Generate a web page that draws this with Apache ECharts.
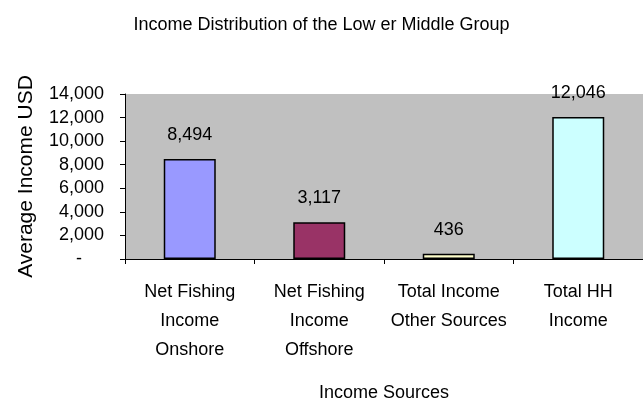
<!DOCTYPE html>
<html><head><meta charset="utf-8">
<script src="https://cdn.jsdelivr.net/npm/echarts@6/dist/echarts.min.js"></script>
<style>html,body{margin:0;padding:0;background:#fff}#c{width:643px;height:403px}</style>
</head><body><div id="c"></div>
<script>
const categories = ["Net Fishing\nIncome\nOnshore", "Net Fishing\nIncome\nOffshore", "Total Income\nOther Sources", "Total HH\nIncome"];
const values = [8494, 3117, 436, 12046];
const barColors = ["#9999FF", "#993366", "#FFFFCC", "#CCFFFF"];
const yTicks = { min: 0, max: 14000, interval: 2000 };

const FONT = "'Liberation Sans', Arial, sans-serif";
const FS = 18;
const fmt = v => v.toString().replace(/\B(?=(\d{3})+(?!\d))/g, ",");

const chart = echarts.init(document.getElementById('c'), null, {renderer: 'canvas'});
chart.setOption({
  animation: false,
  backgroundColor: '#ffffff',
  title: {
    text: 'Income Distribution of the Low er Middle Group',
    left: 'center', top: 11,
    textStyle: { fontFamily: FONT, fontSize: FS, fontWeight: 'normal', color: '#000' }
  },
  grid: { left: 125, top: 94, width: 520, height: 166, show: true, backgroundColor: '#C0C0C0', borderWidth: 0 },
  xAxis: {
    type: 'category',
    data: categories,
    name: 'Income Sources',
    nameLocation: 'middle',
    nameGap: 125,
    nameTextStyle: { fontFamily: FONT, fontSize: FS, color: '#000' },
    axisLine: { lineStyle: { color: '#000', width: 1 } },
    axisTick: { show: true, length: 5, lineStyle: { color: '#000' } },
    axisLabel: { interval: 0, margin: 19, lineHeight: 29, fontFamily: FONT, fontSize: FS, color: '#000' }
  },
  yAxis: {
    type: 'value',
    min: yTicks.min, max: yTicks.max, interval: yTicks.interval,
    name: 'Average Income USD',
    nameLocation: 'middle',
    nameGap: 88,
    nameTextStyle: { fontFamily: FONT, fontSize: 21, color: '#000' },
    axisLine: { show: true, lineStyle: { color: '#000', width: 1 } },
    axisTick: { show: true, length: 5, lineStyle: { color: '#000' } },
    splitLine: { show: false },
    axisLabel: {
      margin: 21, fontFamily: FONT, fontSize: FS, color: '#000',
      formatter: v => v === 0 ? '{d|-}' : fmt(v),
      rich: { d: { fontFamily: FONT, fontSize: FS, color: '#000', padding: [0, 22, 0, 0] } }
    }
  },
  series: [{
    type: 'bar',
    barWidth: 52,
    data: values.map((v, i) => ({ value: v, itemStyle: { color: barColors[i] } })),
    itemStyle: { borderColor: '#000', borderWidth: 1.5 },
    label: { show: true, position: 'top', distance: 15, fontFamily: FONT, fontSize: FS, color: '#000', formatter: p => fmt(p.value) }
  }]
});
</script></body></html>
